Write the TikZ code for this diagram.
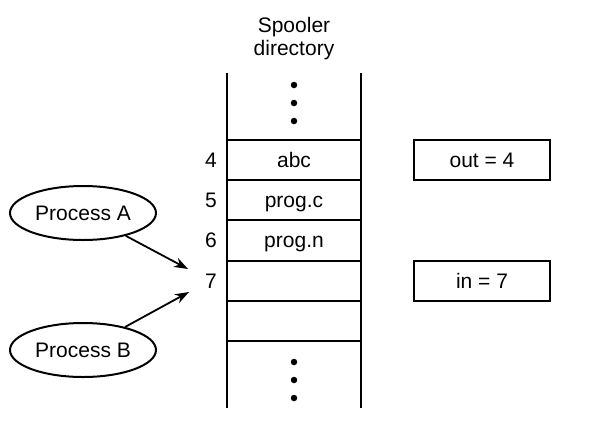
\documentclass[tikz,border=0pt]{standalone}
\usepackage{fontspec}
\setmainfont{Liberation Sans}
\usetikzlibrary{shapes.geometric,arrows.meta}

\tikzset{
    proc/.style={draw, line width=2pt, ellipse, minimum width=146pt, minimum height=54pt, inner sep=0pt},
    varbox/.style={draw, line width=2pt, minimum width=136pt, minimum height=40pt, inner sep=0pt},
    slotnum/.style={inner sep=0pt, anchor=base},
    entry/.style={inner sep=0pt, anchor=base},
    dot/.style={circle, fill, inner sep=0pt, minimum size=6.5pt},
}

\begin{document}
\begin{tikzpicture}[x=1pt, y=-1pt, font=\fontsize{21}{23}\selectfont]
    \useasboundingbox (0,0) rectangle (596,434);

    % the directory column
    \draw[line width=2pt] (227,73) -- (227,408);
    \draw[line width=2pt] (361,73) -- (361,408);
    \foreach \y in {140, 180, 220, 261, 301, 341}
        \draw[line width=2pt] (227,\y) -- (361,\y);

    \node[align=center, inner sep=0pt] (title) at (294,39) {Spooler\\directory};

    \foreach \y [count=\i] in {85, 103, 121}
        \node[dot] (tdot\i) at (294,\y) {};
    \foreach \y [count=\i] in {362, 380, 398}
        \node[dot] (bdot\i) at (294,\y) {};

    % slot numbers and file names (baselines)
    \node[slotnum] (n4) at (211,167.5) {4};
    \node[slotnum] (n5) at (211,207.5) {5};
    \node[slotnum] (n6) at (211,247.5) {6};
    \node[slotnum] (n7) at (211,288) {7};
    \node[entry] (f4) at (294,167.5) {abc};
    \node[entry] (f5) at (294,207.5) {prog.c};
    \node[entry] (f6) at (294,247.5) {prog.n};

    % shared variables
    \node[varbox] (out) at (482,160) {out = 4};
    \node[varbox] (in) at (482,281) {in = 7};

    % processes
    \node[proc] (pa) at (83,213) {Process A};
    \node[proc] (pb) at (83,350) {Process B};

    \coordinate (ta) at (188,269);
    \coordinate (tb) at (189,292);
    \draw[line width=1.8pt, -{Stealth[length=14pt, width=10pt]}] (pa) -- (ta);
    \draw[line width=1.8pt, -{Stealth[length=14pt, width=10pt]}] (pb) -- (tb);
\end{tikzpicture}
\end{document}
